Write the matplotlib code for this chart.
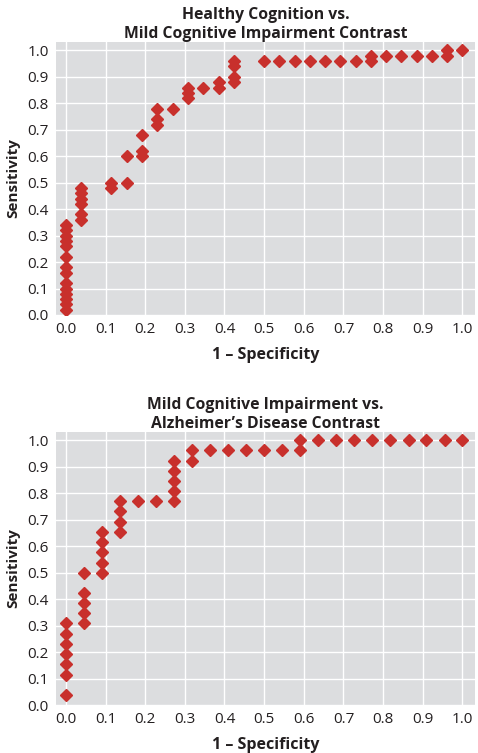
import matplotlib.pyplot as plt

# DATA
# Healthy cognition vs. mild cognitive impairment
hc_x = [0.0] * 14 + [0.038] * 6 + [0.115] * 2 + [0.154] * 2 + [0.192] * 3 \
    + [0.231] * 3 + [0.269] + [0.308] * 3 + [0.346] + [0.385] * 2 + [0.423] * 4 \
    + [0.5, 0.538, 0.577, 0.615, 0.654, 0.692, 0.731] + [0.769] * 2 \
    + [0.808, 0.846, 0.885, 0.923] + [0.962] * 2 + [1.0]
hc_y = [0.02, 0.04, 0.06, 0.08, 0.10, 0.12, 0.16, 0.18, 0.22, 0.26, 0.28, 0.30, 0.32, 0.34,
        0.36, 0.38, 0.42, 0.44, 0.46, 0.48,
        0.48, 0.50,
        0.50, 0.60,
        0.60, 0.62, 0.68,
        0.72, 0.74, 0.78,
        0.78,
        0.82, 0.84, 0.86,
        0.86,
        0.86, 0.88,
        0.88, 0.90, 0.94, 0.96,
        0.96, 0.96, 0.96, 0.96, 0.96, 0.96, 0.96,
        0.96, 0.98,
        0.98, 0.98, 0.98, 0.98,
        0.98, 1.0,
        1.0]

# Mild cognitive impairment vs. Alzheimer's disease
ad_x = [0.0] * 7 + [0.045] * 5 + [0.091] * 5 + [0.136] * 4 + [0.182, 0.227] \
    + [0.273] * 5 + [0.318] * 2 + [0.364, 0.409, 0.455, 0.5, 0.545] + [0.591] * 2 \
    + [0.636, 0.682, 0.727, 0.773, 0.818, 0.864, 0.909, 0.955, 1.0]
ad_y = [0.038, 0.115, 0.154, 0.192, 0.231, 0.269, 0.308,
        0.308, 0.346, 0.385, 0.423, 0.5,
        0.5, 0.538, 0.577, 0.615, 0.654,
        0.654, 0.692, 0.731, 0.769,
        0.769, 0.769,
        0.769, 0.808, 0.846, 0.885, 0.923,
        0.923, 0.962,
        0.962, 0.962, 0.962, 0.962, 0.962,
        0.962, 1.0,
        1.0, 1.0, 1.0, 1.0, 1.0, 1.0, 1.0, 1.0, 1.0]

titles = ['Healthy Cognition vs.\nMild Cognitive Impairment Contrast',
          'Mild Cognitive Impairment vs.\nAlzheimer\u2019s Disease Contrast']
ticks = [0.0, 0.1, 0.2, 0.3, 0.4, 0.5, 0.6, 0.7, 0.8, 0.9, 1.0]
tick_labels = [f'{t:.1f}' for t in ticks]

plt.rcParams['font.family'] = ['Open Sans', 'DejaVu Sans']
text_color = '#231f20'

fig = plt.figure(figsize=(4.78, 7.53), dpi=100)
ax1 = fig.add_axes([0.117, 0.5817, 0.877, 0.3625])
ax2 = fig.add_axes([0.117, 0.0637, 0.877, 0.3630])

for ax, xs, ys, title in [(ax1, hc_x, hc_y, titles[0]), (ax2, ad_x, ad_y, titles[1])]:
    ax.set_facecolor('#dcdddf')
    ax.plot(xs, ys, linestyle='none', marker='D', markersize=6.5,
            color='#c8302c', zorder=3)
    ax.set_xlim(-0.025, 1.032)
    ax.set_ylim(0, 1.032)
    ax.set_xticks(ticks)
    ax.set_xticklabels(tick_labels)
    ax.set_yticks(ticks)
    ax.set_yticklabels(tick_labels)
    ax.grid(color='white', linewidth=1.0)
    ax.set_axisbelow(True)
    for s in ax.spines.values():
        s.set_visible(False)
    ax.tick_params(length=0, labelsize=11, colors=text_color, pad=5)
    ax.set_xlabel('1 \u2013 Specificity', fontsize=11.5, fontweight='bold',
                  color=text_color, labelpad=7)
    ax.set_ylabel('Sensitivity', fontsize=11, fontweight='bold',
                  color=text_color, labelpad=5)
    ax.set_title(title, fontsize=11.3, fontweight='bold', color=text_color,
                 pad=3, linespacing=1.25)

plt.savefig('out.png', dpi=100)
